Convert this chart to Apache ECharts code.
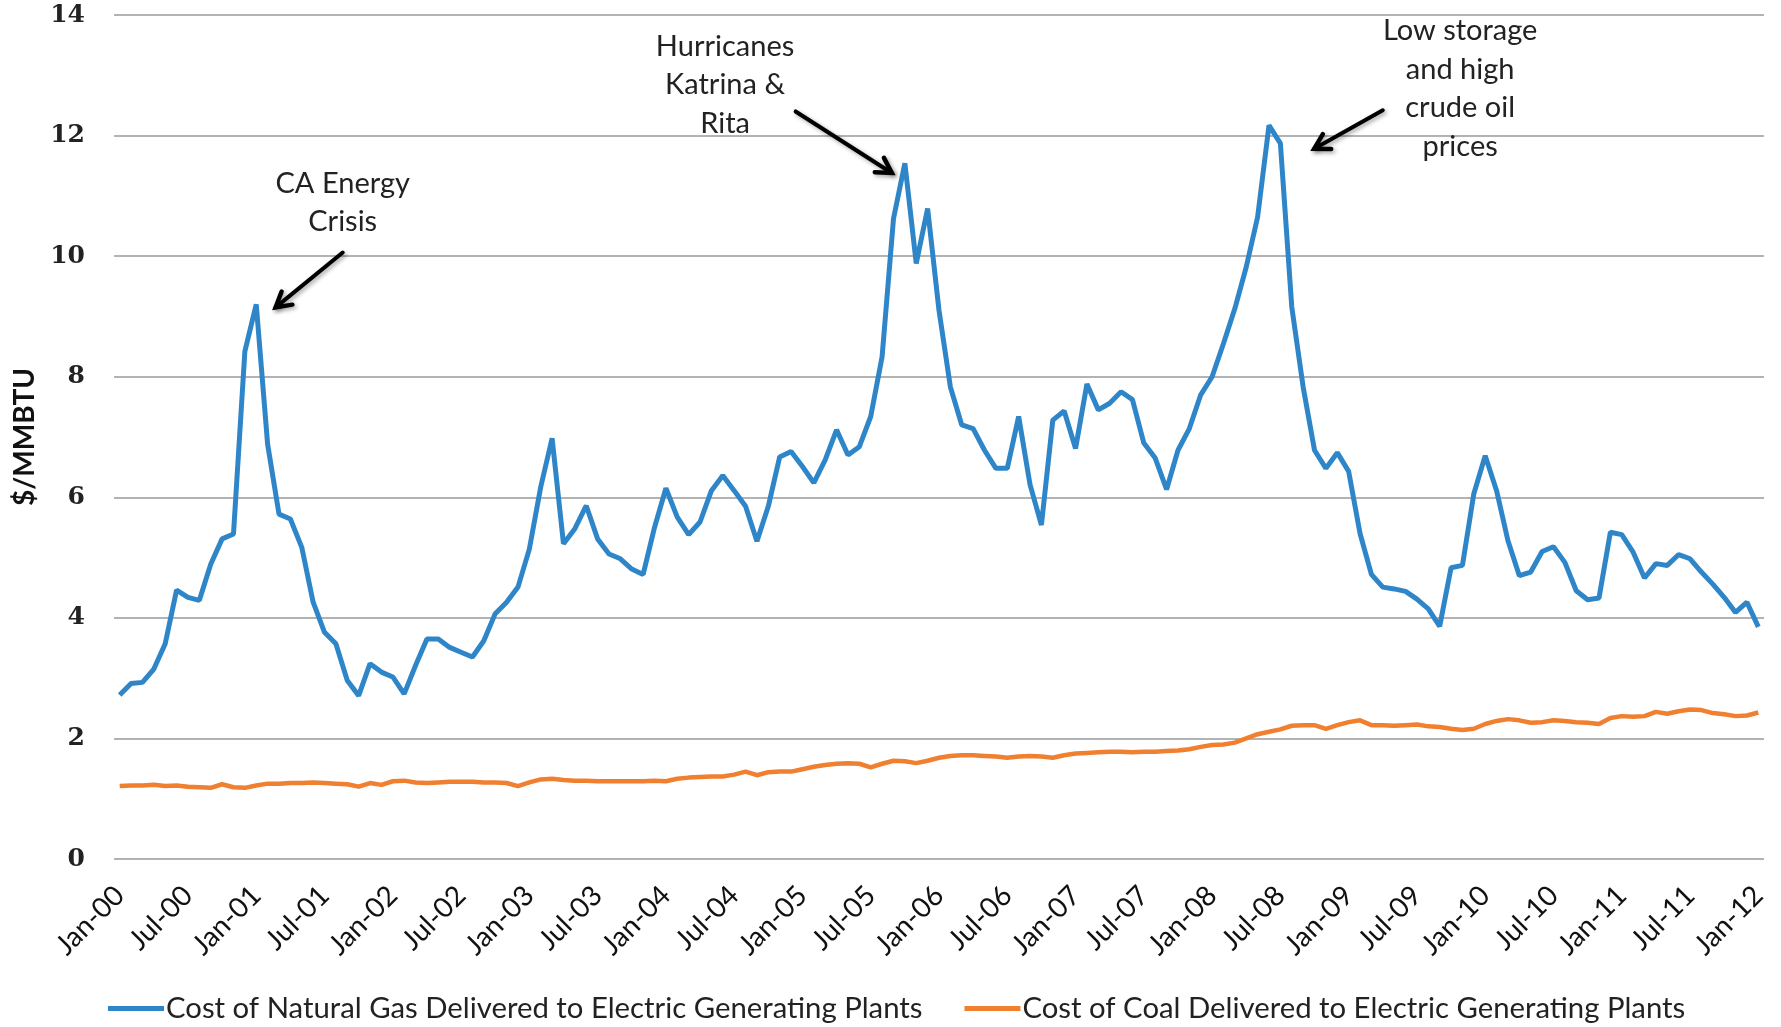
<!DOCTYPE html>
<html>
<head>
<meta charset="utf-8">
<script src="https://cdn.jsdelivr.net/npm/echarts@6/dist/echarts.min.js"></script>
<style>
  html, body { margin: 0; padding: 0; background: #fff; }
  #chart { width: 1781px; height: 1027px; }
</style>
</head>
<body>
<div id="chart"></div>
<script>
// monthly, Jan-00 .. Jan-12
const monthNames = ["Jan", "Feb", "Mar", "Apr", "May", "Jun", "Jul", "Aug", "Sep", "Oct", "Nov", "Dec"];
const months = [];
for (let y = 0; y <= 12; y++) {
  for (let mi = 0; mi < 12; mi++) {
    if (y === 12 && mi > 0) break;
    months.push(monthNames[mi] + "-" + String(y).padStart(2, "0"));
  }
}

const gasCost = [
  2.72, 2.91, 2.93, 3.15, 3.57, 4.46, 4.34, 4.29, 4.89, 5.31, 5.39, 8.42,
  9.20, 6.88, 5.72, 5.64, 5.17, 4.26, 3.76, 3.57, 2.96, 2.71, 3.24, 3.10,
  3.02, 2.74, 3.21, 3.65, 3.65, 3.51, 3.43, 3.35, 3.62, 4.07, 4.26, 4.51,
  5.14, 6.17, 6.98, 5.23, 5.48, 5.86, 5.31, 5.06, 4.98, 4.81, 4.72, 5.50,
  6.15, 5.67, 5.38, 5.59, 6.11, 6.36, 6.11, 5.85, 5.27, 5.85, 6.67, 6.76,
  6.51, 6.24, 6.62, 7.12, 6.70, 6.84, 7.34, 8.33, 10.62, 11.54, 9.88, 10.79,
  9.10, 7.83, 7.20, 7.14, 6.78, 6.48, 6.48, 7.34, 6.21, 5.54, 7.28, 7.43,
  6.81, 7.88, 7.45, 7.56, 7.75, 7.62, 6.90, 6.65, 6.13, 6.78, 7.14, 7.70,
  8.00, 8.55, 9.13, 9.82, 10.65, 12.17, 11.87, 9.16, 7.83, 6.78, 6.48, 6.74,
  6.43, 5.40, 4.72, 4.51, 4.48, 4.44, 4.31, 4.15, 3.86, 4.83, 4.87, 6.06,
  6.69, 6.11, 5.28, 4.70, 4.76, 5.10, 5.18, 4.92, 4.45, 4.30, 4.33, 5.42,
  5.38, 5.09, 4.66, 4.90, 4.87, 5.05, 4.98, 4.76, 4.56, 4.34, 4.09, 4.26,
  3.85
];

const coalCost = [
  1.21, 1.22, 1.22, 1.23, 1.21, 1.22, 1.20, 1.19, 1.18, 1.24, 1.19, 1.18,
  1.22, 1.25, 1.25, 1.26, 1.26, 1.27, 1.26, 1.25, 1.24, 1.20, 1.26, 1.23,
  1.29, 1.30, 1.27, 1.26, 1.27, 1.28, 1.28, 1.28, 1.27, 1.27, 1.26, 1.21,
  1.27, 1.32, 1.33, 1.31, 1.30, 1.30, 1.29, 1.29, 1.29, 1.29, 1.29, 1.30,
  1.29, 1.33, 1.35, 1.36, 1.37, 1.37, 1.40, 1.45, 1.39, 1.44, 1.45, 1.45,
  1.49, 1.53, 1.56, 1.58, 1.59, 1.58, 1.52, 1.58, 1.63, 1.62, 1.59, 1.63,
  1.68, 1.71, 1.72, 1.72, 1.71, 1.70, 1.68, 1.70, 1.71, 1.70, 1.68, 1.72,
  1.75, 1.76, 1.77, 1.78, 1.78, 1.77, 1.78, 1.78, 1.79, 1.80, 1.82, 1.86,
  1.89, 1.90, 1.93, 2.00, 2.07, 2.11, 2.15, 2.21, 2.22, 2.22, 2.16, 2.22,
  2.27, 2.30, 2.22, 2.22, 2.21, 2.22, 2.23, 2.20, 2.19, 2.16, 2.14, 2.16,
  2.24, 2.29, 2.32, 2.30, 2.26, 2.27, 2.30, 2.29, 2.27, 2.26, 2.24, 2.34,
  2.37, 2.36, 2.37, 2.44, 2.41, 2.45, 2.48, 2.47, 2.42, 2.40, 2.37, 2.38,
  2.43
];

// annotations: text centre, arrow tail, arrow head (month index, $/MMBTU)
const noteTexts = ["CA Energy\nCrisis", "Hurricanes\nKatrina &\nRita", "Low storage\nand high\ncrude oil\nprices"];
const notePos = [[19.6, 10.89], [53.2, 12.84], [117.8, 12.78]];
const arrowFrom = [[19.6, 10.06], [59.4, 12.40], [111.0, 12.42]];
const arrowTo = [[13.7, 9.15], [67.85, 11.38], [104.97, 11.78]];

const font = "Lato, 'Open Sans', sans-serif";

const chart = echarts.init(document.getElementById("chart"));
const option = {
  animation: false,
  backgroundColor: "#fff",
  grid: { left: 114, right: 17, top: 15, bottom: 168, containLabel: false, outerBoundsMode: "none" },
  legend: {
    left: 108,
    top: 994,
    padding: 0,
    icon: "rect",
    itemWidth: 56,
    itemHeight: 5,
    itemGap: 42,
    textStyle: { fontFamily: font, fontSize: 29.3, color: "#222", padding: [0, 0, 0, -3] },
    data: ["Cost of Natural Gas Delivered to Electric Generating Plants", "Cost of Coal Delivered to Electric Generating Plants"]
  },
  xAxis: [
    {
      type: "category",
      data: months,
      boundaryGap: true,
      axisLine: { show: false },
      axisTick: { show: false },
      axisLabel: {
        interval: 5,
        rotate: 45,
        margin: 32,
        fontFamily: font,
        fontSize: 28,
        color: "#111"
      },
      splitLine: { show: false }
    },
    // hidden value axis used to place annotations
    { type: "value", min: -0.5, max: 144.5, show: false }
  ],
  yAxis: {
    type: "value",
    min: 0,
    max: 14,
    interval: 2,
    name: "$/MMBTU",
    nameLocation: "middle",
    nameGap: 75,
    nameTextStyle: { fontFamily: font, fontWeight: "bold", fontSize: 28, color: "#111" },
    axisLine: { show: false },
    axisTick: { show: false },
    axisLabel: {
      margin: 29,
      fontFamily: "'DejaVu Serif', serif",
      fontWeight: "bold",
      fontSize: 25,
      color: "#222"
    },
    splitLine: { lineStyle: { color: "#9a9a9a", width: 1.5 } }
  },
  series: [
    {
      name: "Cost of Natural Gas Delivered to Electric Generating Plants",
      type: "line",
      data: gasCost,
      symbol: "none",
      itemStyle: { color: "#2e86c9" },
      lineStyle: { color: "#2e86c9", width: 5 }
    },
    {
      name: "Cost of Coal Delivered to Electric Generating Plants",
      type: "line",
      data: coalCost,
      symbol: "none",
      itemStyle: { color: "#f07f30" },
      lineStyle: { color: "#f07f30", width: 4.5 }
    }
  ]
};
chart.setOption(option);

// annotation texts and arrows
const toPx = (p) => chart.convertToPixel({ xAxisIndex: 1, yAxisIndex: 0 }, p);
const graphics = [];
noteTexts.forEach((t, i) => {
  const c = toPx(notePos[i]);
  graphics.push({
    type: "text",
    x: c[0],
    y: c[1],
    style: {
      text: t,
      align: "center",
      verticalAlign: "middle",
      fontFamily: font,
      fontSize: 29,
      lineHeight: 38.5,
      fill: "#222"
    }
  });
  const a = toPx(arrowFrom[i]);
  const b = toPx(arrowTo[i]);
  const ang = Math.atan2(b[1] - a[1], b[0] - a[0]);
  const len = 17, spread = Math.PI / 6;
  const w1 = [b[0] - len * Math.cos(ang - spread), b[1] - len * Math.sin(ang - spread)];
  const w2 = [b[0] - len * Math.cos(ang + spread), b[1] - len * Math.sin(ang + spread)];
  const shadow = { shadowBlur: 4, shadowColor: "rgba(0,0,0,0.35)", shadowOffsetX: 2, shadowOffsetY: 2 };
  graphics.push({
    type: "line",
    shape: { x1: a[0], y1: a[1], x2: b[0], y2: b[1] },
    style: Object.assign({ stroke: "#000", lineWidth: 4, lineCap: "round" }, shadow)
  });
  graphics.push({
    type: "polyline",
    shape: { points: [w1, b, w2] },
    style: Object.assign({ stroke: "#000", fill: null, lineWidth: 4.5, lineJoin: "miter", lineCap: "round" }, shadow)
  });
});
chart.setOption({ graphic: graphics });
</script>
</body>
</html>
